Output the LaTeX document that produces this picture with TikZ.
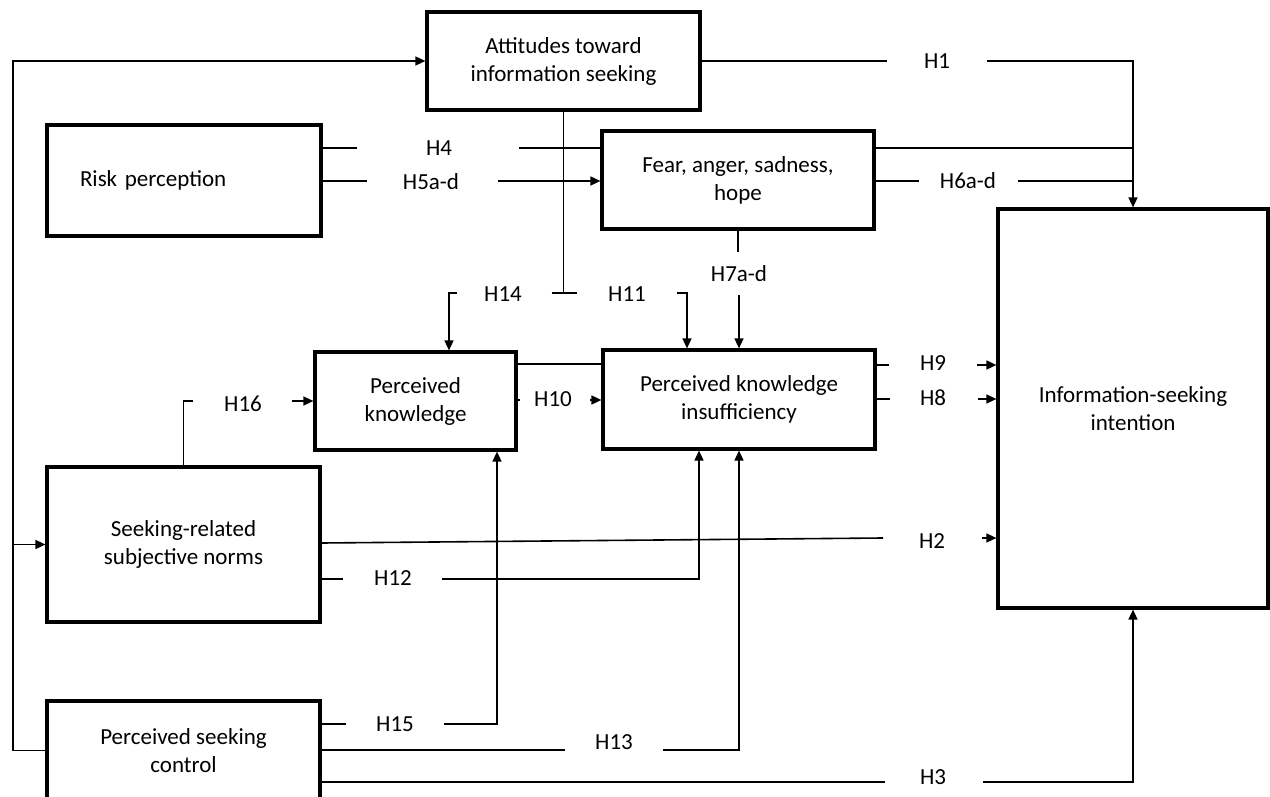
\documentclass[tikz,border=0pt]{standalone}
\usepackage{fontspec}
\setmainfont{Carlito}
\usetikzlibrary{arrows.meta}
\begin{document}
\begin{tikzpicture}[x=0.5pt,y=-0.5pt,
  box/.style={draw, line width=1.6pt, align=center, inner sep=0pt, font=\fontsize{11.5}{14}\selectfont},
  conn/.style={line width=0.8pt},
  arr/.style={conn, -{Triangle[length=5pt,width=4.5pt]}},
  lbl/.style={font=\fontsize{11.5}{14}\selectfont, inner sep=0pt}]
\useasboundingbox (0,0) rectangle (1270,797);

% boxes
\node[box, minimum width=136.5pt, minimum height=49pt] (att) at (563.5,61) {Attitudes toward\\information seeking};
\node[box, text width=104pt, inner xsep=16.5pt, minimum height=55.5pt, align=left] (risk) at (184,180.5) {Risk perception};
\node[box, minimum width=136pt, minimum height=49pt] (fear) at (738,180) {Fear, anger, sadness,\\hope};
\node[box, minimum width=135pt, minimum height=199.5pt] (info) at (1133,408.5) {Information-seeking\\intention};
\node[box, minimum width=100.5pt, minimum height=49pt] (pk) at (415.5,401) {Perceived\\knowledge};
\node[box, minimum width=136pt, minimum height=49.5pt] (pki) at (739,399.5) {Perceived knowledge\\insufficiency};
\node[box, minimum width=136.5pt, minimum height=77.5pt] (srn) at (183.5,544.5) {Seeking-related\\subjective norms};
\node[box, minimum width=136.5pt, minimum height=49.5pt] (psc) at (183.5,750.5) {Perceived seeking\\control};

% labels
\node[lbl] (l1) at (937,61) {H1};
\node[lbl] (l4) at (439,148) {H4};
\node[lbl] (l5) at (431,182) {H5a-d};
\node[lbl] (l6) at (968,181) {H6a-d};
\node[lbl] (l7) at (739,274) {H7a-d};
\node[lbl] (l14) at (503,294) {H14};
\node[lbl] (l11) at (627,294) {H11};
\node[lbl] (l16) at (243,404) {H16};
\node[lbl] (l10) at (553,399) {H10};
\node[lbl] (l9) at (933,363) {H9};
\node[lbl] (l8) at (933,398) {H8};
\node[lbl] (l2) at (932,541) {H2};
\node[lbl] (l12) at (393,578) {H12};
\node[lbl] (l15) at (395,724) {H15};
\node[lbl] (l13) at (614,742) {H13};
\node[lbl] (l3) at (933,777) {H3};

% H1
\coordinate (h1a) at (887,61);
\coordinate (h1b) at (987,61);
\draw[conn] (att.east) -- (h1a);
\draw[arr] (h1b) -| (info.north);
% fear top line
\coordinate (j148) at (1133,148);
\draw[conn] (fear.east |- j148) -- (j148);
% H6
\coordinate (h6a) at (919,181);
\coordinate (h6b) at (1018,181);
\coordinate (j181) at (1133,181);
\draw[conn] (fear.east |- h6a) -- (h6a);
\draw[conn] (h6b) -- (j181);
% H4
\coordinate (h4a) at (357,148);
\coordinate (h4b) at (519,148);
\draw[conn] (risk.east |- h4a) -- (h4a);
\draw[conn] (h4b) -- (fear.west |- h4b);
% H5
\coordinate (h5a) at (367,181);
\coordinate (h5b) at (498,181);
\draw[conn] (risk.east |- h5a) -- (h5a);
\draw[arr] (h5b) -- (fear.west |- h5b);
% attitudes T-bar
\coordinate (tb) at (563.5,293);
\draw[conn] (att.south) -- (tb);
\draw[conn] ([xshift=-6pt]tb) -- ([xshift=6.5pt]tb);
% H7
\coordinate (h7a) at (738,252);
\coordinate (h7b) at (739,295);
\draw[conn] (fear.south) -- (h7a);
\draw[arr] (h7b) -- (h7b |- pki.north);
% H14
\coordinate (h14a) at (457,293);
\coordinate (h14b) at (449,293);
\draw[arr] (h14a) -- (h14b) -- (h14b |- pk.north);
% H11
\coordinate (h11a) at (677,293);
\coordinate (h11b) at (687,293);
\draw[arr] (h11a) -- (h11b) -- (h11b |- pki.north);
% PK - PKI
\coordinate (k364) at (516,364);
\draw[conn] (pk.east |- k364) -- (pki.west |- k364);
% H10
\coordinate (h10a) at (520,400);
\coordinate (h10b) at (590,400);
\draw[conn] (pk.east |- h10a) -- (h10a);
\draw[arr] (h10b) -- (pki.west |- h10b);
% H16
\coordinate (h16a) at (183.5,401);
\coordinate (h16b) at (193,401);
\coordinate (h16c) at (292,401);
\draw[conn] (srn.north) -- (h16a) -- (h16b);
\draw[arr] (h16c) -- (pk.west);
% H9
\coordinate (h9a) at (889,365);
\coordinate (h9b) at (977,365);
\draw[conn] (pki.east |- h9a) -- (h9a);
\draw[arr] (h9b) -- (info.west |- h9b);
% H8
\coordinate (h8a) at (890,399);
\coordinate (h8b) at (978,399);
\draw[conn] (pki.east |- h8a) -- (h8a);
\draw[arr] (h8b) -- (info.west |- h8b);
% H2
\coordinate (h2s) at (320,543);
\coordinate (h2a) at (883,538);
\coordinate (h2b) at (982,538);
\draw[conn] (srn.east |- h2s) -- (h2a);
\draw[arr] (h2b) -- (info.west |- h2b);
% H12
\coordinate (h12a) at (343,579);
\coordinate (h12b) at (442,579);
\coordinate (h12c) at (699,579);
\draw[conn] (srn.east |- h12a) -- (h12a);
\draw[arr] (h12b) -- (h12c) -- (h12c |- pki.south);
% H15
\coordinate (h15a) at (346,724);
\coordinate (h15b) at (444,724);
\coordinate (h15c) at (497,724);
\draw[conn] (psc.east |- h15a) -- (h15a);
\draw[arr] (h15b) -- (h15c) -- (h15c |- pk.south);
% H13
\coordinate (h13a) at (565,750);
\coordinate (h13b) at (663,750);
\coordinate (h13c) at (739,750);
\draw[conn] (psc.east |- h13a) -- (h13a);
\draw[arr] (h13b) -- (h13c) -- (h13c |- pki.south);
% H3
\coordinate (h3a) at (885,782);
\coordinate (h3b) at (983,782);
\draw[conn] (psc.east |- h3a) -- (h3a);
\draw[arr] (h3b) -| (info.south);
% left loop
\coordinate (lpb) at (13,750.5);
\coordinate (lpt) at (13,61);
\coordinate (lpm) at (13,544.5);
\draw[arr] (psc.west) -- (lpb) -- (lpt) -- (att.west);
\draw[arr] (lpm) -- (srn.west);
\end{tikzpicture}
\end{document}
